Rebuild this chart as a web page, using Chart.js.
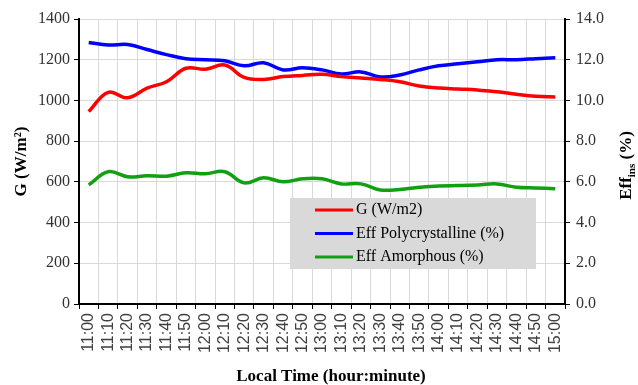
<!DOCTYPE html>
<html>
<head>
<meta charset="utf-8">
<script src="https://cdn.jsdelivr.net/npm/chart.js@4"></script>
<style>
  html, body { margin: 0; padding: 0; background: #fff; }
  #wrap { width: 638px; height: 385px; }
</style>
</head>
<body>
<div id="wrap"><canvas id="effChart" width="638" height="385"></canvas></div>
<script>
// Data
const timeLabels = ["11:00", "11:10", "11:20", "11:30", "11:40", "11:50", "12:00", "12:10", "12:20",
  "12:30", "12:40", "12:50", "13:00", "13:10", "13:20", "13:30", "13:40", "13:50", "14:00",
  "14:10", "14:20", "14:30", "14:40", "14:50", "15:00"];
const irradiance = [945, 1040, 1013, 1060, 1092, 1158, 1153, 1174, 1113, 1103, 1117, 1123, 1128,
  1117, 1110, 1103, 1092, 1071, 1061, 1056, 1051, 1043, 1030, 1020, 1017];
const effPoly = [12.85, 12.72, 12.75, 12.5, 12.25, 12.05, 12.0, 11.95, 11.7, 11.85, 11.5, 11.6, 11.5,
  11.3, 11.4, 11.15, 11.25, 11.5, 11.7, 11.8, 11.9, 12.0, 12.0, 12.05, 12.1];
const effAmorph = [5.85, 6.5, 6.25, 6.3, 6.28, 6.45, 6.4, 6.5, 5.95, 6.2, 6.0, 6.15, 6.15,
  5.9, 5.9, 5.6, 5.63, 5.73, 5.8, 5.82, 5.85, 5.9, 5.73, 5.7, 5.66];
const leftTicks = [0, 200, 400, 600, 800, 1000, 1200, 1400];
const rightTicks = [0, 2, 4, 6, 8, 10, 12, 14];

const serif = "'Liberation Serif', 'Times New Roman', serif";
const sans = "'Liberation Sans', Arial, sans-serif";

// Legend box and axis titles
const extrasPlugin = {
  id: "extras",
  afterDraw(chart) {
    const ctx = chart.ctx;
    const area = chart.chartArea;
    ctx.save();

    // legend
    ctx.fillStyle = "#d9d9d9";
    ctx.fillRect(290, 198, 246, 71);
    ctx.font = "16px " + serif;
    ctx.textBaseline = "middle";
    chart.data.datasets.forEach((ds, i) => {
      const y = 210 + i * 23.5;
      ctx.strokeStyle = ds.borderColor;
      ctx.lineWidth = 3;
      ctx.beginPath();
      ctx.moveTo(315, y);
      ctx.lineTo(353, y);
      ctx.stroke();
      ctx.fillStyle = "#000";
      ctx.textAlign = "left";
      ctx.fillText(ds.label, 356, y);
    });

    // left title
    const midY = (area.top + area.bottom) / 2;
    ctx.fillStyle = "#000";
    ctx.font = "bold 17px " + serif;
    ctx.textAlign = "center";
    ctx.translate(22, midY);
    ctx.rotate(-Math.PI / 2);
    ctx.fillText("G (W/m²)", 0, 0);
    ctx.setTransform(1, 0, 0, 1, 0, 0);

    // right title with subscript
    ctx.translate(627, midY + 4);
    ctx.rotate(-Math.PI / 2);
    const big = "bold 17px " + serif, small = "bold 11px " + serif;
    ctx.font = big;
    const w1 = ctx.measureText("Eff").width;
    const w3 = ctx.measureText(" (%)").width;
    ctx.font = small;
    const w2 = ctx.measureText("ins").width;
    let x = -(w1 + w2 + w3) / 2;
    ctx.textAlign = "left";
    ctx.font = big;
    ctx.fillText("Eff", x, 0);
    x += w1;
    ctx.font = small;
    ctx.fillText("ins", x, 5);
    x += w2;
    ctx.font = big;
    ctx.fillText(" (%)", x, 0);
    ctx.setTransform(1, 0, 0, 1, 0, 0);

    // x title
    ctx.font = "bold 17px " + serif;
    ctx.textAlign = "center";
    ctx.fillText("Local Time (hour:minute)", 331, 377);
    ctx.restore();
  }
};

const initChart = () => {
  const ctx = document.getElementById("effChart").getContext("2d");
  new Chart(ctx, {
    type: "line",
    data: {
      labels: timeLabels,
      datasets: [
        { label: "G (W/m2)", data: irradiance, yAxisID: "yG", borderColor: "#ff0000" },
        { label: "Eff Polycrystalline (%)", data: effPoly, yAxisID: "yEff", borderColor: "#0000ff" },
        { label: "Eff Amorphous (%)", data: effAmorph, yAxisID: "yEff", borderColor: "#12a012" },
      ],
    },
    options: {
      responsive: false,
      animation: false,
      layout: { padding: { top: 19, left: 0, right: 0, bottom: 0 } },
      elements: {
        line: { borderWidth: 3.5, tension: 0.4, fill: false },
        point: { radius: 0 },
      },
      plugins: { legend: { display: false }, tooltip: { enabled: false } },
      scales: {
        x: {
          offset: true,
          grid: { offset: true, color: "#d9d9d9", tickColor: "#000", tickLength: 5 },
          border: { color: "#000", width: 2 },
          ticks: {
            autoSkip: false, minRotation: 90, maxRotation: 90,
            color: "#404040", font: { family: sans, size: 16 }, padding: 4,
          },
          afterFit: (s) => { s.height = 81; },
        },
        yG: {
          position: "left",
          min: 0, max: 1400,
          afterBuildTicks: (s) => { s.ticks = leftTicks.map((v) => ({ value: v })); },
          grid: { color: "#d9d9d9", tickColor: "#000", tickLength: 5 },
          border: { color: "#000", width: 2 },
          ticks: {
            color: "#333", font: { family: serif, size: 16 }, padding: 4,
            callback: (v) => String(v),
          },
          afterFit: (s) => { s.width = 79; },
        },
        yEff: {
          position: "right",
          min: 0, max: 14,
          afterBuildTicks: (s) => { s.ticks = rightTicks.map((v) => ({ value: v })); },
          grid: { drawOnChartArea: false, tickColor: "#000", tickLength: 5 },
          border: { color: "#000", width: 2 },
          ticks: {
            color: "#333", font: { family: serif, size: 16 }, padding: 6,
            callback: (v) => Number(v).toFixed(1),
          },
          afterFit: (s) => { s.width = 73; },
        },
      },
    },
    plugins: [extrasPlugin],
  });
};

document.addEventListener("DOMContentLoaded", initChart);
</script>
</body>
</html>
